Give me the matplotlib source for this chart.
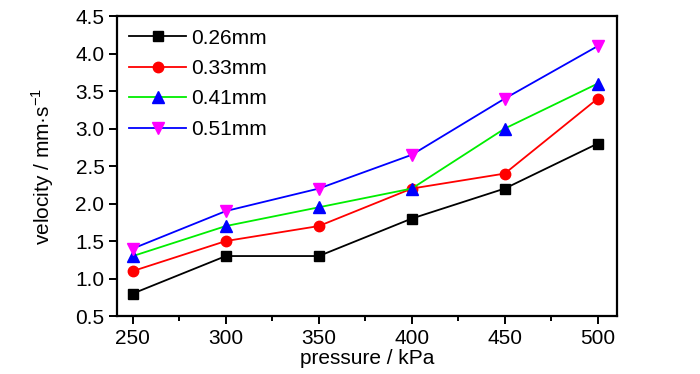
import numpy as np
import matplotlib
matplotlib.use('Agg')
import matplotlib.pyplot as plt
from matplotlib.ticker import MultipleLocator, FormatStrFormatter

plt.rcParams['font.family'] = ['Liberation Sans', 'DejaVu Sans']
plt.rcParams['mathtext.fontset'] = 'custom'
plt.rcParams['mathtext.rm'] = 'Liberation Sans'

pressure = [250, 300, 350, 400, 450, 500]
labels = ['0.26mm', '0.33mm', '0.41mm', '0.51mm']
v026 = [0.8, 1.3, 1.3, 1.8, 2.2, 2.8]
v033 = [1.1, 1.5, 1.7, 2.2, 2.4, 3.4]
v041 = [1.3, 1.7, 1.95, 2.2, 3.0, 3.6]
v051 = [1.4, 1.9, 2.2, 2.65, 3.4, 4.1]

fig = plt.figure(figsize=(7, 3.74), dpi=100)
ax = fig.add_axes([0.167, 0.155, 0.714, 0.802])

ax.plot(pressure, v026, '-s', color='black', mfc='black', mec='black', ms=6.5, lw=1.3, label=labels[0])
ax.plot(pressure, v033, '-o', color='red', mfc='red', mec='red', ms=7.5, lw=1.3, label=labels[1])
ax.plot(pressure, v041, '-^', color='#00ee00', mfc='blue', mec='blue', ms=8, lw=1.3, label=labels[2])
ax.plot(pressure, v051, '-v', color='blue', mfc='magenta', mec='magenta', ms=8, lw=1.3, label=labels[3])

ax.set_xlim(241.4, 510.2)
ax.set_ylim(0.5, 4.5)
ax.xaxis.set_major_locator(MultipleLocator(50))
ax.xaxis.set_minor_locator(MultipleLocator(25))
ax.yaxis.set_major_locator(MultipleLocator(0.5))
ax.yaxis.set_major_formatter(FormatStrFormatter('%.1f'))
ax.tick_params(axis='both', which='major', direction='out', length=6, width=1.4, labelsize=15, pad=3)
ax.tick_params(axis='x', which='minor', direction='out', length=3.5, width=1.4)
for s in ax.spines.values():
    s.set_linewidth(1.6)

ax.set_xlabel('pressure / kPa', fontsize=15, labelpad=1)
ax.set_ylabel('velocity / mm·s$^{-1}$', fontsize=15, labelpad=14)

ax.legend(loc='upper left', frameon=False, fontsize=15, handlelength=2.7,
          handletextpad=0.25, labelspacing=0.55, borderaxespad=0.3,
          borderpad=0.3)

fig.savefig('out.png', dpi=100)
